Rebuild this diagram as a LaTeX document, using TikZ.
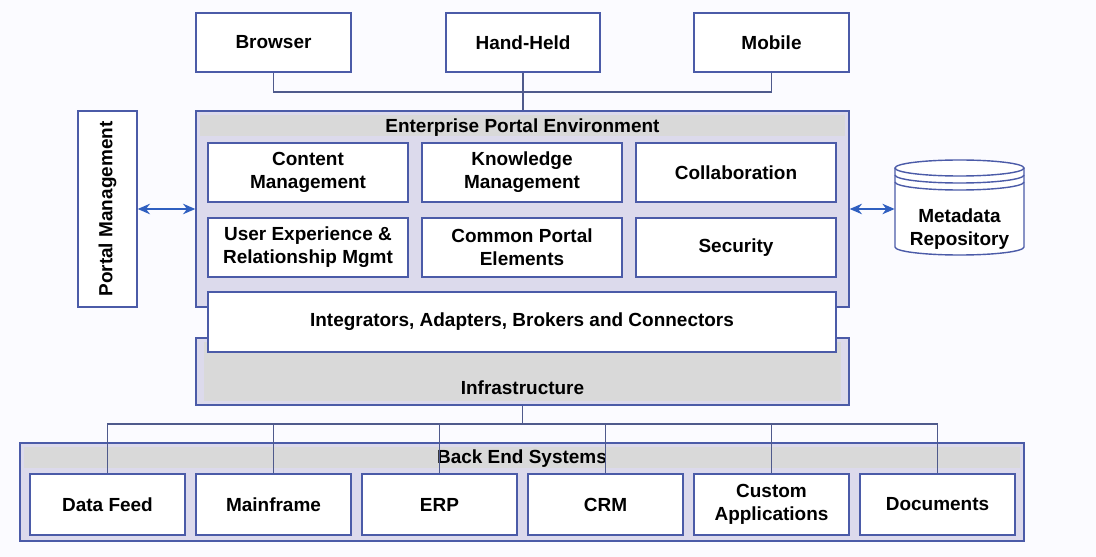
\documentclass[tikz,border=0pt]{standalone}
\usepackage{fontspec}
\setmainfont{Liberation Sans}
\usetikzlibrary{arrows.meta}
\definecolor{lineblue}{HTML}{4B5BA8}
\definecolor{conn}{HTML}{4F5A8C}
\definecolor{lav}{HTML}{DCDAEC}
\definecolor{panelgray}{HTML}{D9D9D9}
\definecolor{arrowblue}{HTML}{2F5FC0}
\definecolor{bg}{HTML}{FBFBFF}
\begin{document}
\begin{tikzpicture}[x=0.02cm,y=-0.02cm,
  every node/.style={font=\fontsize{10.8}{13}\selectfont\bfseries, align=center, inner sep=0pt},
  box/.style={draw=lineblue, line width=0.8pt, fill=white, rectangle},
  container/.style={draw=lineblue, line width=0.8pt, fill=lav, rectangle},
  conline/.style={draw=conn, line width=0.8pt},
  dbl/.style={draw=arrowblue, line width=0.8pt, {Stealth[length=7pt,width=6pt]}-{Stealth[length=7pt,width=6pt]}}
]
\useasboundingbox[fill=bg] (0,0) rectangle (1096,557);

% top clients
\node[box, minimum width=155*0.02cm, minimum height=59*0.02cm] (browser) at (273.5,42.5) {Browser};
\node[box, minimum width=154*0.02cm, minimum height=59*0.02cm] (handheld) at (523,42.5) {Hand-Held};
\node[box, minimum width=155*0.02cm, minimum height=59*0.02cm] (mobile) at (771.5,42.5) {Mobile};

% Enterprise Portal Environment
\node[container, minimum width=653*0.02cm, minimum height=196*0.02cm] (epe) at (522.5,209) {};
\fill[panelgray] (200,115) rectangle (845,136);
\node (epetitle) at (522.5,128) {Enterprise Portal Environment};

\node[box, minimum width=200*0.02cm, minimum height=59*0.02cm] (content) at (308,172.5) {Content\\Management};
\node[box, minimum width=200*0.02cm, minimum height=59*0.02cm] (knowledge) at (522,172.5) {Knowledge\\Management};
\node[box, minimum width=200*0.02cm, minimum height=59*0.02cm] (collab) at (736,172.5) {Collaboration};
\node[box, minimum width=200*0.02cm, minimum height=59*0.02cm] (userexp) at (308,247.5) {User Experience \&\\Relationship Mgmt};
\node[box, minimum width=200*0.02cm, minimum height=59*0.02cm] (common) at (522,247.5) {Common Portal\\Elements};
\node[box, minimum width=200*0.02cm, minimum height=59*0.02cm] (security) at (736,247.5) {Security};

% Infrastructure
\node[container, minimum width=653*0.02cm, minimum height=67*0.02cm] (infra) at (522.5,371.5) {};
\fill[panelgray] (204,342) rectangle (841,401);
\node (infratitle) at (522.5,388) {Infrastructure};

% Integrators
\node[box, minimum width=628*0.02cm, minimum height=60*0.02cm] (integ) at (522,322) {Integrators, Adapters, Brokers and Connectors};

% Portal Management
\node[box, minimum width=59*0.02cm, minimum height=196*0.02cm] (portal) at (107.5,209) {};
\node[rotate=90] (portaltext) at (107.5,209) {Portal Management};

% Metadata Repository cylinder
\node[minimum width=129*0.02cm, minimum height=97*0.02cm] (repo) at (959.5,208) {};
\draw[lineblue, line width=0.8pt, fill=white] (895,168) -- (895,247)
  arc[start angle=180, end angle=360, x radius=1.29cm, y radius=0.16cm] -- (1024,168);
\draw[lineblue, line width=0.8pt, fill=white] (959.5,168) ellipse[x radius=1.29cm, y radius=0.16cm];
\draw[lineblue, line width=0.8pt] (895,175) arc[start angle=180, end angle=360, x radius=1.29cm, y radius=0.16cm];
\draw[lineblue, line width=0.8pt] (895,182) arc[start angle=180, end angle=360, x radius=1.29cm, y radius=0.16cm];
\node (repotext) at (959.5,229) {Metadata\\Repository};

% Back End Systems
\node[container, minimum width=1004*0.02cm, minimum height=98*0.02cm] (bes) at (522,492) {};
\fill[panelgray] (24,447) rectangle (1020,468);
\node (bestitle) at (522,459) {Back End Systems};
\node[box, minimum width=155*0.02cm, minimum height=61*0.02cm] (datafeed) at (107.5,504.5) {Data Feed};
\node[box, minimum width=155*0.02cm, minimum height=61*0.02cm] (mainframe) at (273.5,504.5) {Mainframe};
\node[box, minimum width=155*0.02cm, minimum height=61*0.02cm] (erp) at (439.5,504.5) {ERP};
\node[box, minimum width=155*0.02cm, minimum height=61*0.02cm] (crm) at (605.5,504.5) {CRM};
\node[box, minimum width=155*0.02cm, minimum height=61*0.02cm] (custom) at (771.5,504.5) {Custom\\Applications};
\node[box, minimum width=155*0.02cm, minimum height=61*0.02cm] (documents) at (937.5,504.5) {Documents};

% connectors top
\coordinate (tbus) at (523,92);
\draw[conline] (browser.south) |- (tbus) -| (mobile.south);
\draw[conline] (handheld.south) -- (handheld.south |- epe.north);

% connectors bottom
\coordinate (bbus) at (523,424);
\draw[conline] (infra.south) -- (infra.south |- bbus);
\draw[conline] (datafeed.north) |- (bbus) -| (documents.north);
\draw[conline] (mainframe.north) -- (mainframe.north |- bbus);
\draw[conline] (erp.north) -- (erp.north |- bbus);
\draw[conline] (crm.north) -- (crm.north |- bbus);
\draw[conline] (custom.north) -- (custom.north |- bbus);

% arrows
\draw[dbl] (portal.east |- 0,209) -- (epe.west |- 0,209);
\draw[dbl] (epe.east |- 0,209) -- (repo.west |- 0,209);
\end{tikzpicture}
\end{document}
